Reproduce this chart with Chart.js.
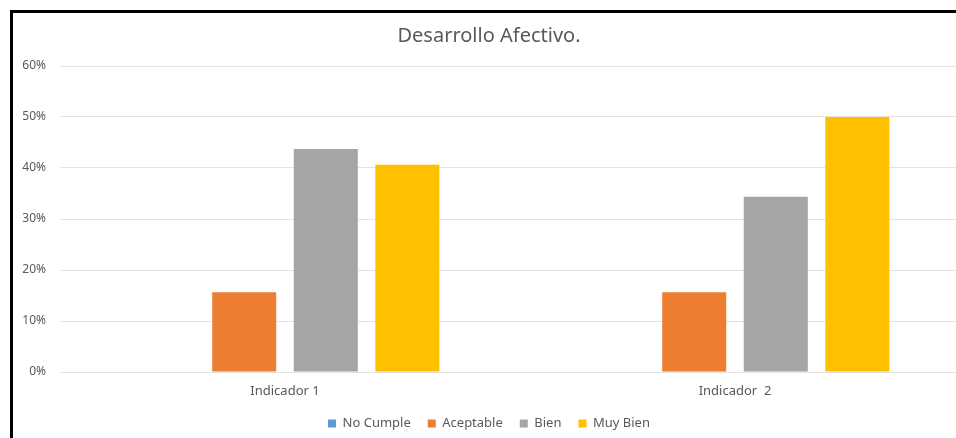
<!DOCTYPE html>
<html>
<head>
<meta charset="utf-8">
<script src="https://cdn.jsdelivr.net/npm/chart.js@4"></script>
<style>
  html, body { margin: 0; padding: 0; background: #fff; overflow: hidden; }
  #wrap { position: relative; width: 956px; height: 438px; overflow: hidden; }
  #chart { position: absolute; left: 0; top: 0; }
  #frame {
    position: absolute; left: 10px; top: 10px; width: 960px; height: 440px;
    border-left: 3px solid #000; border-top: 3px solid #000; pointer-events: none;
  }
</style>
</head>
<body>
<div id="wrap">
  <canvas id="chart" width="980" height="442"></canvas>
  <div id="frame"></div>
</div>
<script>
// categories and series (share of students, out of 32)
const categories = ['Indicador 1', 'Indicador  2'];
const noCumple = [0, 0];
const aceptable = [0.15625, 0.15625];
const bien = [0.4375, 0.34375];
const muyBien = [0.40625, 0.5];
const yTicks = [0, 0.1, 0.2, 0.3, 0.4, 0.5, 0.6];

document.addEventListener('DOMContentLoaded', function() {
  const ctx = document.getElementById('chart').getContext('2d');
  Chart.defaults.font.family = '"Noto Sans", "Open Sans", sans-serif';
  Chart.defaults.color = '#595959';

  const data = {
    labels: categories,
    datasets: [
      { label: 'No Cumple', data: noCumple, backgroundColor: '#5B9BD5' },
      { label: 'Aceptable', data: aceptable, backgroundColor: '#ED7D31' },
      { label: 'Bien', data: bien, backgroundColor: '#A5A5A5' },
      { label: 'Muy Bien', data: muyBien, backgroundColor: '#FFC000' }
    ]
  };

  const config = {
    type: 'bar',
    data: data,
    options: {
      responsive: false,
      animation: false,
      categoryPercentage: 0.725,
      barPercentage: 0.785,
      // left padding centres title + legend like the original frame
      layout: { padding: { left: 18, right: 20, top: 0, bottom: 2 } },
      plugins: {
        title: {
          display: true,
          text: 'Desarrollo Afectivo.',
          color: '#595959',
          font: { size: 20, weight: 'normal' },
          padding: { top: 24, bottom: 18 }
        },
        legend: {
          position: 'bottom',
          labels: {
            boxWidth: 8,
            boxHeight: 8,
            padding: 17,
            font: { size: 13 },
            color: '#595959'
          }
        },
        tooltip: { enabled: false }
      },
      scales: {
        x: {
          grid: { display: false, drawTicks: false },
          border: { display: false },
          ticks: { font: { size: 13 }, padding: 11, color: '#595959' },
          afterFit: function(scale) { scale.height = 28; }
        },
        y: {
          min: 0,
          max: 0.6,
          afterBuildTicks: function(scale) {
            scale.ticks = yTicks.map(function(v) { return { value: v }; });
          },
          afterFit: function(scale) { scale.width = 42; },
          grid: { color: '#e3e3e3', drawTicks: false },
          border: { display: false },
          ticks: {
            padding: 14,
            font: { size: 12 },
            color: '#595959',
            callback: function(value) { return Math.round(value * 100) + '%'; }
          }
        }
      }
    }
  };

  new Chart(ctx, config);
});
</script>
</body>
</html>
